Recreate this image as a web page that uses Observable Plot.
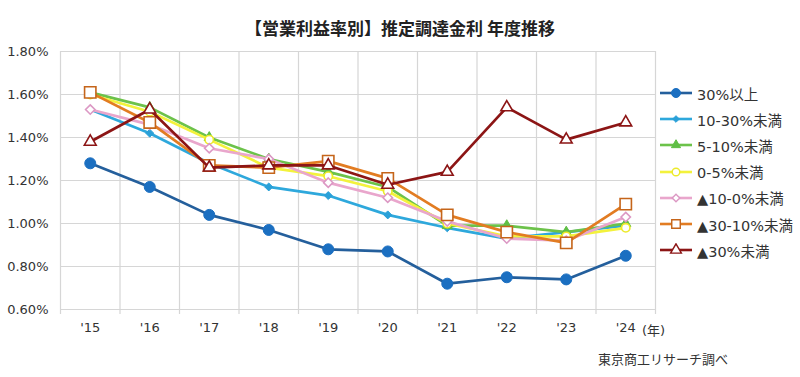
<!DOCTYPE html>
<html><head><meta charset="utf-8">
<script src="https://cdn.jsdelivr.net/npm/d3@7"></script>
<script src="https://cdn.jsdelivr.net/npm/@observablehq/plot@0.6"></script>
<style>
body{margin:0;background:#fff;}
#wrap{position:relative;width:800px;height:377px;overflow:hidden;background:#fff;font-family:"DejaVu Sans","Noto Sans CJK JP",sans-serif;color:#333;}
#title{position:absolute;left:0;width:800px;top:18px;text-align:center;font-size:17px;font-weight:bold;color:#222;line-height:20px;font-family:"Noto Sans CJK JP",sans-serif;}
#chart{position:absolute;left:0;top:40px;}
#legend{position:absolute;left:660px;top:80px;}
.row{display:flex;align-items:center;height:26.2px;font-size:14.5px;white-space:nowrap;}
.row svg{margin-right:3px;}
#unit{position:absolute;left:642px;top:320px;font-size:13px;}
#caption{position:absolute;left:598px;top:349px;font-size:13px;font-family:"Noto Sans CJK JP",sans-serif;}
</style></head>
<body>
<div id="wrap">
  <div id="title">【営業利益率別】推定調達金利 年度推移</div>
  <div id="chart"></div>
  <div id="legend"></div>
  <div id="unit">(年)</div>
  <div id="caption">東京商工リサーチ調べ</div>
</div>
<script>
// ---- data ----
const years = [2015, 2016, 2017, 2018, 2019, 2020, 2021, 2022, 2023, 2024];
const yearLabels = ["'15", "'16", "'17", "'18", "'19", "'20", "'21", "'22", "'23", "'24"];
const yTicks = [0.6, 0.8, 1.0, 1.2, 1.4, 1.6, 1.8];
const seriesNames = ["30%以上", "10-30%未満", "5-10%未満", "0-5%未満", "▲10-0%未満", "▲30-10%未満", "▲30%未満"];
const s30over   = [1.28, 1.17, 1.04, 0.97, 0.88, 0.87, 0.72, 0.75, 0.74, 0.85];
const s10to30   = [1.53, 1.42, 1.28, 1.17, 1.13, 1.04, 0.98, 0.93, 0.96, 0.99];
const s5to10    = [1.61, 1.54, 1.40, 1.30, 1.24, 1.17, 0.99, 0.99, 0.96, 1.00];
const s0to5     = [1.60, 1.52, 1.39, 1.26, 1.22, 1.15, 1.00, 0.94, 0.94, 0.98];
const sM10to0   = [1.53, 1.46, 1.35, 1.30, 1.19, 1.12, 1.01, 0.93, 0.92, 1.03];
const sM30toM10 = [1.61, 1.47, 1.27, 1.26, 1.29, 1.21, 1.04, 0.96, 0.91, 1.09];
const sM30      = [1.38, 1.53, 1.26, 1.27, 1.27, 1.18, 1.24, 1.54, 1.39, 1.47];
const seriesValues = [s30over, s10to30, s5to10, s0to5, sM10to0, sM30toM10, sM30];

// ---- styles ----
const styles = [
  {line: "#245f9c", fill: "#1b6fc1", stroke: "#1b6fc1", symbol: "circle",   r: 5.5, lr: 4.5},
  {line: "#2ea8dc", fill: "#2aa0d8", stroke: "#2aa0d8", symbol: "diamond2", r: 3.6, lr: 3},
  {line: "#6cc24a", fill: "#5fbf45", stroke: "#5fbf45", symbol: "triangle", r: 3.8, lr: 3.4},
  {line: "#f3f23c", fill: "#ffffff", stroke: "#ecea2a", symbol: "circle",   r: 4.2, lr: 3.8},
  {line: "#e9a6cc", fill: "#ffffff", stroke: "#dc98c4", symbol: "diamond2", r: 4.2, lr: 3.4},
  {line: "#e27c22", fill: "#ffffff", stroke: "#c5651a", symbol: "square",   r: 6.4, lr: 4.8},
  {line: "#8c1515", fill: "#ffffff", stroke: "#8c1515", symbol: "triangle", r: 4.4, lr: 4}
];

const data = seriesNames.flatMap((name, i) =>
  seriesValues[i].map((v, j) => ({series: name, idx: i, year: years[j], value: v})));

const edges = years.map(y => y - 0.5).concat([years[years.length - 1] + 0.5]);
const gridColor = "#d6d6d6";

const marks = [
  Plot.ruleY(yTicks, {stroke: gridColor, strokeWidth: 1.2}),
  Plot.ruleX(edges, {stroke: gridColor, strokeWidth: 1.2, insetBottom: -5}),
];
seriesNames.forEach((name, i) => {
  const d = data.filter(e => e.idx === i);
  const st = styles[i];
  marks.push(Plot.line(d, {x: "year", y: "value", stroke: st.line, strokeWidth: 2.7}));
  marks.push(Plot.dot(d, {x: "year", y: "value", symbol: () => st.symbol, r: st.r,
    fill: st.fill, stroke: st.stroke, strokeWidth: st.fill === "#ffffff" ? 1.6 : 1}));
});

const chart = Plot.plot({
  width: 800, height: 300,
  marginTop: 11, marginBottom: 31, marginLeft: 60, marginRight: 145,
  x: {type: "linear", domain: [edges[0], edges[edges.length - 1]], ticks: years,
      tickFormat: d => yearLabels[years.indexOf(d)], tickSize: 0, tickPadding: 13, label: null},
  y: {domain: [yTicks[0], yTicks[yTicks.length - 1]], ticks: yTicks,
      tickFormat: d => d.toFixed(2) + "%", tickSize: 0, tickPadding: 12, label: null},
  symbol: {type: "identity"},
  style: {fontFamily: '"DejaVu Sans","Noto Sans CJK JP",sans-serif', fontSize: "13px", color: "#333", background: "#fff"},
  marks
});
document.getElementById("chart").appendChild(chart);

// ---- legend ----
const symMap = {circle: d3.symbolCircle, diamond2: d3.symbolDiamond2, triangle: d3.symbolTriangle, square: d3.symbolSquare};
const legend = d3.select("#legend");
seriesNames.forEach((name, i) => {
  const st = styles[i];
  const row = legend.append("div").attr("class", "row");
  const svg = row.append("svg").attr("width", 34).attr("height", 14);
  svg.append("line").attr("x1", 0).attr("x2", 32).attr("y1", 7).attr("y2", 7)
     .attr("stroke", st.line).attr("stroke-width", 2.6);
  svg.append("path").attr("transform", "translate(16,7)")
     .attr("d", d3.symbol(symMap[st.symbol], Math.PI * st.lr * st.lr)())
     .attr("fill", st.fill).attr("stroke", st.stroke).attr("stroke-width", st.fill === "#ffffff" ? 1.4 : 1);
  row.append("span").text(name);
});
</script>
</body></html>
